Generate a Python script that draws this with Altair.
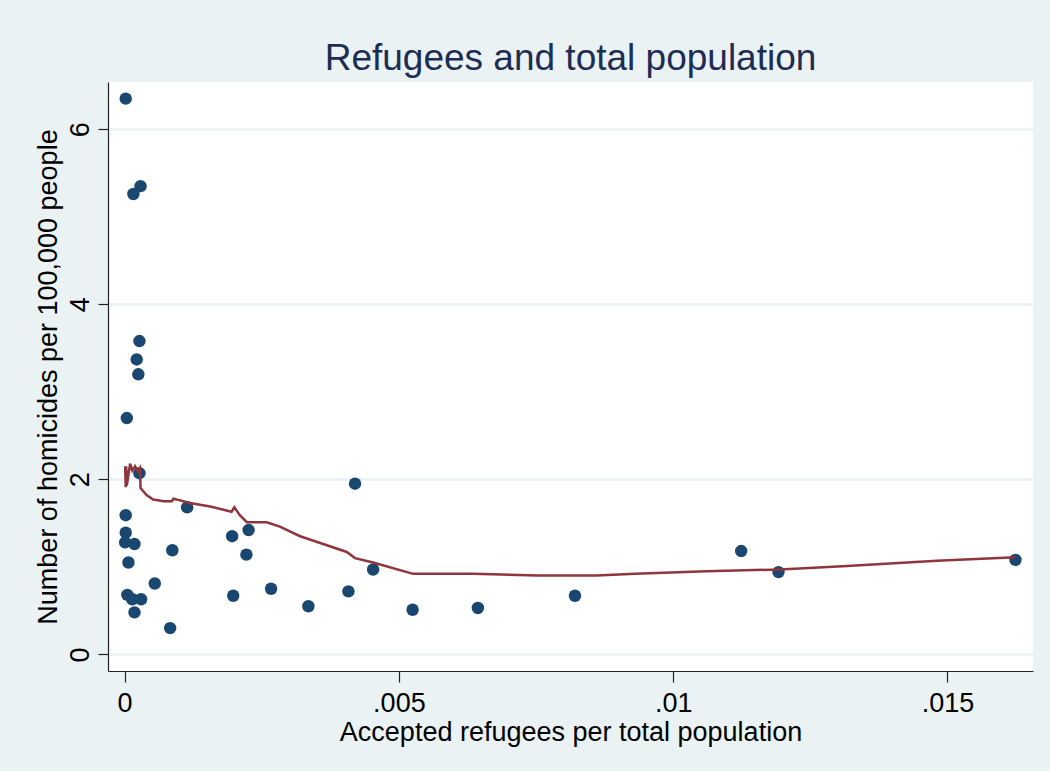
import altair as alt
import pandas as pd

# Scatter data: accepted refugees per total population vs homicides per 100,000
refugee_share = [0.00002, 0.00016, 0.00029, 0.00027, 0.00022, 0.00025, 0.00004, 0.00027,
                 0.00002, 0.00002, 0.00001, 0.00018, 0.00007, 0.00005, 0.00014, 0.00030,
                 0.00018, 0.00055, 0.00083, 0.00087, 0.00114, 0.00196, 0.00198, 0.00222,
                 0.00226, 0.00267, 0.00335, 0.00408, 0.00420, 0.00453, 0.00525, 0.00644,
                 0.00821, 0.01124, 0.01192, 0.01624]
homicides = [6.35, 5.26, 5.35, 3.58, 3.37, 3.20, 2.70, 2.07,
             1.59, 1.39, 1.28, 1.26, 1.05, 0.68, 0.63, 0.63,
             0.48, 0.81, 0.30, 1.19, 1.68, 1.35, 0.67, 1.14,
             1.42, 0.75, 0.55, 0.72, 1.95, 0.97, 0.51, 0.53,
             0.67, 1.18, 0.94, 1.08]

# Lowess smoother as drawn
lowess_x = [0.00001, 0.00002, 0.00003, 0.00004, 0.00010, 0.00014, 0.00019, 0.00024,
            0.00028, 0.00029, 0.00040, 0.00052, 0.00071, 0.00086, 0.00089, 0.00119,
            0.00156, 0.00195, 0.00200, 0.00210, 0.00223, 0.00259, 0.00283, 0.00320,
            0.00405, 0.00420, 0.00453, 0.00526, 0.00635, 0.00754, 0.00860, 0.00931,
            0.01061, 0.01195, 0.01317, 0.01481, 0.01624]
lowess_y = [2.15, 1.91, 2.15, 1.93, 2.18, 2.10, 2.15, 2.09,
            2.13, 1.90, 1.82, 1.77, 1.75, 1.75, 1.78, 1.73,
            1.69, 1.63, 1.68, 1.59, 1.51, 1.51, 1.46, 1.35,
            1.17, 1.10, 1.05, 0.92, 0.92, 0.90, 0.90, 0.92,
            0.95, 0.97, 1.01, 1.07, 1.11]

x_ticks = [0, 0.005, 0.01, 0.015]
y_ticks = [0, 2, 4, 6]

FONT = "Liberation Sans"
BG = "#EAF2F3"

pts = pd.DataFrame({"x": refugee_share, "y": homicides})
line_df = pd.DataFrame({"x": lowess_x, "y": lowess_y, "i": list(range(len(lowess_x)))})

x_scale = alt.Scale(domain=[-0.000303, 0.01656], nice=False, zero=False)
y_scale = alt.Scale(domain=[-0.19, 6.54], nice=False, zero=False)

x_axis = alt.Axis(
    title="Accepted refugees per total population",
    values=x_ticks,
    labelExpr="datum.value == 0 ? '0' : substring(format(datum.value, '.3~f'), 1)",
    grid=False,
    tickSize=11,
    labelPadding=8,
    titlePadding=3,
)
y_axis = alt.Axis(
    title="Number of homicides per 100,000 people",
    values=y_ticks,
    format="d",
    grid=True,
    gridColor=BG,
    gridWidth=2.5,
    tickSize=10,
    labelAngle=270,
    labelPadding=4,
    titlePadding=4,
)

scatter = alt.Chart(pts).mark_circle(size=155, color="#1A476F", opacity=1).encode(
    x=alt.X("x:Q", scale=x_scale, axis=x_axis),
    y=alt.Y("y:Q", scale=y_scale, axis=y_axis),
)

line = alt.Chart(line_df).mark_line(color="#90353B", strokeWidth=2.5).encode(
    x=alt.X("x:Q", scale=x_scale),
    y=alt.Y("y:Q", scale=y_scale),
    order="i:Q",
)

chart = (
    alt.layer(scatter, line)
    .properties(
        width=925,
        height=589,
        title=alt.TitleParams(
            "Refugees and total population",
            fontSize=37,
            font=FONT,
            fontWeight="normal",
            color="#1E2D53",
            anchor="middle",
            offset=4,
        ),
        autosize=alt.AutoSizeParams(type="none"),
        padding={"left": 108, "top": 82, "right": 17, "bottom": 100},
        background=BG,
    )
    .configure_view(fill="white", stroke=None)
    .configure_axis(
        labelFont=FONT,
        titleFont=FONT,
        labelFontSize=27,
        titleFontSize=27,
        titleFontWeight="normal",
        labelColor="black",
        titleColor="black",
        domainColor="#222222",
        tickColor="#222222",
        domainWidth=1.2,
        tickWidth=1.2,
    )
)

chart.save("out.html", embed_options={"renderer": "svg", "actions": False})
